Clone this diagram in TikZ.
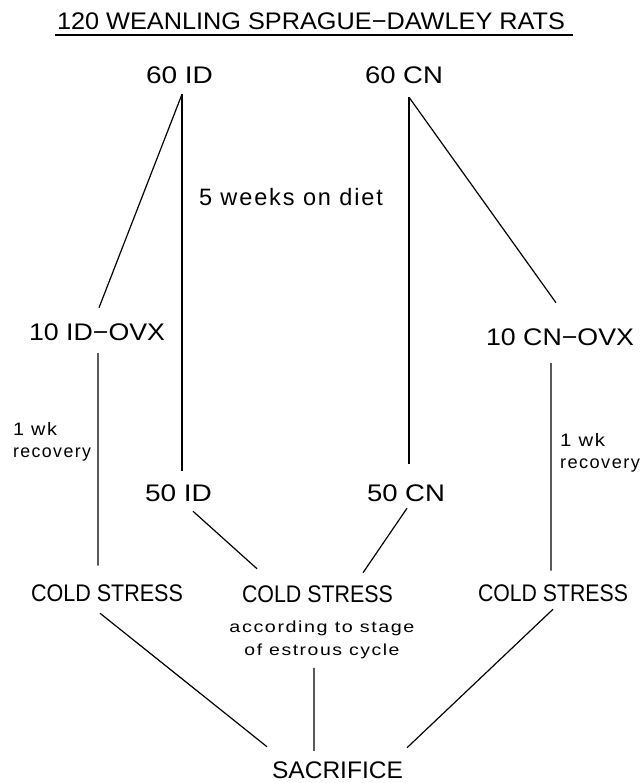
\documentclass[tikz,border=0pt]{standalone}
\usepackage{fontspec}
\setmainfont{Liberation Sans}
\newfontfamily\lsp[LetterSpace=8]{Liberation Sans}
\usetikzlibrary{calc}
\newcommand\fw[3]{\resizebox{#1bp}{\height}{\fontsize{#2bp}{#2bp}\selectfont #3}}
\begin{document}
\begin{tikzpicture}[x=1bp,y=-1bp,
  lab/.style={inner sep=0pt, outer sep=0pt, anchor=base west},
  twoline/.style={inner sep=0pt, outer sep=0pt},
  conn/.style={line width=1.2bp, black}]
\fill[white] (0,0) rectangle (642,783);
\useasboundingbox (0,0) rectangle (642,783);

% texts
\node[lab] (title) at (57,30) {\fw{508}{24}{120 WEANLING SPRAGUE−DAWLEY RATS}};
\node[lab] (id60) at (146,84) {\fw{67}{24}{60 ID}};
\node[lab] (cn60) at (365,84) {\fw{78}{24}{60 CN}};
\node[lab] (diet) at (199,205) {\fw{184}{23.7}{\lsp 5 weeks on diet}};
\node[lab] (idovx) at (29,340) {\fw{136}{24}{10 ID−OVX}};
\node[lab] (cnovx) at (486,345) {\fw{148}{24}{10 CN−OVX}};
\node[twoline, anchor=north west, align=left, font=\fontsize{18bp}{22bp}\selectfont] (recl) at (13,422)
  {\fw{44}{18}{\lsp 1 wk}\\\fw{78}{18}{\lsp recovery}};
\node[twoline, anchor=north west, align=left, font=\fontsize{18bp}{22bp}\selectfont] (recr) at (560,433)
  {\fw{45}{18}{\lsp 1 wk}\\\fw{80}{18}{\lsp recovery}};
\node[lab] (id50) at (145,501) {\fw{67}{24}{50 ID}};
\node[lab] (cn50) at (367,501) {\fw{78}{24}{50 CN}};
\node[lab] (csl) at (31,601) {\fw{152}{24}{COLD STRESS}};
\node[lab] (csm) at (242,602) {\fw{151}{24}{COLD STRESS}};
\node[lab] (csr) at (478,601) {\fw{150}{24}{COLD STRESS}};
\node[twoline, anchor=north, align=center, font=\fontsize{16bp}{23bp}\selectfont] (acc) at (322,621)
  {\fw{185}{16}{\lsp according to stage}\\\fw{155}{16}{\lsp of estrous cycle}};
\node[lab] (sac) at (272,778) {\fw{131}{24}{SACRIFICE}};

% title underline
\draw[line width=1.5bp] ($(title.base west)+(-2,5)$) -- ($(title.base east)+(8,5)$);

% connectors
\draw[conn] ($(id60.south)+(2.5,10)$) -- ($(idovx.north)+(2,-15.5)$);
\draw[conn] ($(id60.south)+(2.5,10)$) -- ($(id50.north)+(3.5,-13.5)$);
\draw[conn] ($(cn60.south)+(5,13)$) -- ($(cn50.north)+(3,-20.5)$);
\draw[conn] ($(cn60.south)+(5,13)$) -- ($(cnovx.north)+(-4,-25.5)$);
\draw[conn] ($(idovx.south)+(1,13)$) -- ($(csl.north)+(-9,-18.5)$);
\draw[conn] ($(cnovx.south)+(-9,18)$) -- ($(csr.north)+(-2,-13.5)$);
\draw[conn] ($(id50.south)+(14.5,10)$) -- ($(csm.north)+(-60.5,-16.5)$);
\draw[conn] ($(cn50.south)+(1,7)$) -- ($(csm.north)+(45.5,-12.5)$);
\draw[conn] ($(csl.south)+(-7,12)$) -- ($(sac.north)+(-70.5,-14.5)$);
\draw[conn] ($(acc.south)+(-8,9)$) -- ($(sac.north)+(-23.5,-10.5)$);
\draw[conn] ($(csr.south)+(0,8)$) -- ($(sac.north)+(69.5,-13.5)$);
\end{tikzpicture}
\end{document}
